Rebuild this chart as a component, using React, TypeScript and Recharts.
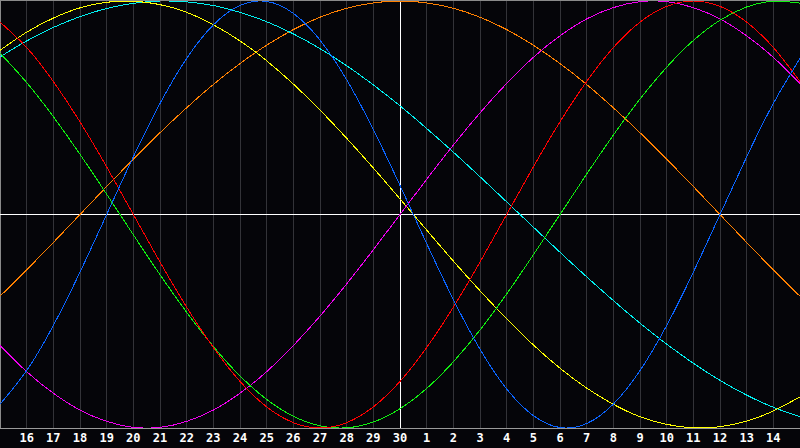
import { LineChart, Line, XAxis, YAxis, CartesianGrid, ReferenceLine } from 'recharts';

// day of month for each column, 15th to 15th of next month
const dayLabels = [15, 16, 17, 18, 19, 20, 21, 22, 23, 24, 25, 26, 27, 28, 29, 30, 1, 2, 3, 4, 5, 6, 7, 8, 9, 10, 11, 12, 13, 14, 15];
const tickIdx = [1, 2, 3, 4, 5, 6, 7, 8, 9, 10, 11, 12, 13, 14, 15, 16, 17, 18, 19, 20, 21, 22, 23, 24, 25, 26, 27, 28, 29];

// cycle values in percent per day
const physical = [-88.8, -73.1, -52.0, -27.0, 0, 27.0, 52.0, 73.1, 88.8, 97.9, 99.8, 94.2, 81.7, 63.1, 39.8, 13.6, -13.6, -39.8, -63.1, -81.7, -94.2, -99.8, -97.9, -88.8, -73.1, -52.0, -27.0, 0, 27.0, 52.0, 73.1];
const emotional = [90.1, 78.2, 62.3, 43.4, 22.3, 0, -22.3, -43.4, -62.3, -78.2, -90.1, -97.5, -100, -97.5, -90.1, -78.2, -62.3, -43.4, -22.3, 0, 22.3, 43.4, 62.3, 78.2, 90.1, 97.5, 100, 97.5, 90.1, 78.2, 62.3];
const intellectual = [75.6, 61.8, 45.8, 28.2, 9.5, -9.5, -28.2, -45.8, -61.8, -75.6, -86.6, -94.5, -99.0, -99.9, -97.2, -91.0, -81.5, -69.0, -54.1, -37.2, -18.9, 0, 18.9, 37.2, 54.1, 69.0, 81.5, 91.0, 97.2, 99.9, 99.0];
const intuitive = [-61.4, -73.6, -83.7, -91.6, -96.9, -99.7, -99.7, -96.9, -91.6, -83.7, -73.6, -61.4, -47.6, -32.5, -16.5, 0, 16.5, 32.5, 47.6, 61.4, 73.6, 83.7, 91.6, 96.9, 99.7, 99.7, 96.9, 91.6, 83.7, 73.6, 61.4];
const aesthetic = [76.9, 85.4, 92.0, 96.8, 99.4, 99.9, 98.3, 94.7, 88.9, 81.3, 72.0, 61.1, 48.9, 35.7, 21.8, 7.3, -7.3, -21.8, -35.7, -48.9, -61.1, -72.0, -81.3, -88.9, -94.7, -98.3, -99.9, -99.4, -96.8, -92.0, -85.4];
const awareness = [-38.3, -25.9, -13.1, 0, 13.1, 25.9, 38.3, 50.0, 60.9, 70.7, 79.3, 86.6, 92.4, 96.6, 99.1, 100, 99.1, 96.6, 92.4, 86.6, 79.3, 70.7, 60.9, 50.0, 38.3, 25.9, 13.1, 0, -13.1, -25.9, -38.3];
const spiritual = [73.8, 81.3, 87.6, 92.7, 96.5, 98.9, 100.0, 99.6, 97.9, 94.7, 90.3, 84.6, 77.7, 69.7, 60.7, 50.9, 40.3, 29.2, 17.7, 5.9, -5.9, -17.7, -29.2, -40.3, -50.9, -60.7, -69.7, -77.7, -84.6, -90.3, -94.7];

const data = dayLabels.map((day, i) => ({
  i,
  day,
  physical: physical[i],
  emotional: emotional[i],
  intellectual: intellectual[i],
  intuitive: intuitive[i],
  aesthetic: aesthetic[i],
  awareness: awareness[i],
  spiritual: spiritual[i],
}));

const series = [
  { key: 'awareness', color: '#ff8000' },
  { key: 'spiritual', color: '#00f0f0' },
  { key: 'aesthetic', color: '#ffff00' },
  { key: 'intuitive', color: '#f000f0' },
  { key: 'intellectual', color: '#10f010' },
  { key: 'emotional', color: '#ff0000' },
  { key: 'physical', color: '#0a64ff' },
];

export default function App() {
  return (
    <div
      style={{
        width: 800,
        height: 448,
        background: '#050509',
        borderTop: '1px solid #8a8a8a',
        boxSizing: 'border-box',
      }}
    >
      <style>{`body { margin: 0; } .bio path, .bio line { shape-rendering: crispEdges; }`}</style>
      <LineChart className="bio" width={800} height={447} data={data} margin={{ top: 0, right: 0, left: 0, bottom: 0 }}>
        <CartesianGrid horizontal={false} stroke="#333338" />
        <XAxis
          dataKey="i"
          type="number"
          domain={[0, 30]}
          ticks={tickIdx}
          tickFormatter={(v) => String(dayLabels[v])}
          height={20}
          tickLine={false}
          tickSize={3}
          axisLine={{ stroke: '#9a9a9a' }}
          interval={0}
          tick={{
            fontFamily: 'DejaVu Sans Mono, monospace',
            fontSize: 12,
            fontWeight: 700,
            fill: '#ffffff',
          }}
        />
        <YAxis hide domain={[-100, 100]} />
        <ReferenceLine x={0} stroke="#8a8a8a" strokeWidth={2} />
        <ReferenceLine y={0} stroke="#ffffff" />
        <ReferenceLine x={15} stroke="#ffffff" />
        {series.map((s) => (
          <Line
            key={s.key}
            type="natural"
            dataKey={s.key}
            stroke={s.color}
            strokeWidth={1}
            dot={false}
            activeDot={false}
            isAnimationActive={false}
          />
        ))}
      </LineChart>
    </div>
  );
}
